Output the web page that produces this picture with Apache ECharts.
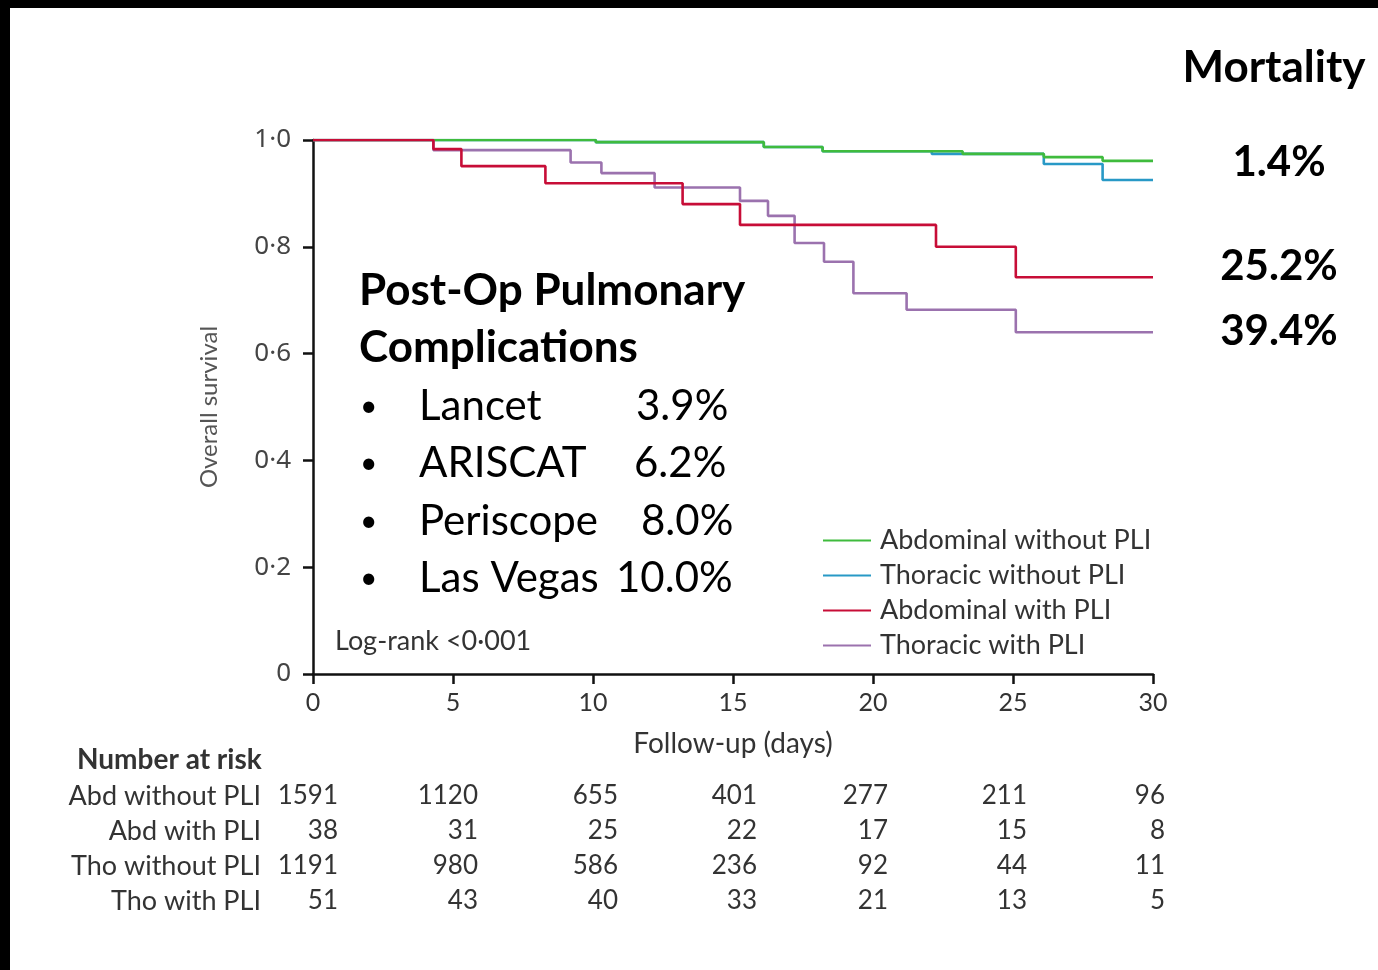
<!DOCTYPE html>
<html><head><meta charset="utf-8">
<script src="https://cdn.jsdelivr.net/npm/echarts@6/dist/echarts.min.js"></script>
<style>html,body{margin:0;padding:0;background:#fff}#c{width:1378px;height:970px}</style>
</head><body><div id="c"></div>
<script>
// ---- data ----
const seriesNames = ['Abdominal without PLI', 'Thoracic without PLI', 'Abdominal with PLI', 'Thoracic with PLI'];
const abdNoPliDays = [0, 10.1, 16.1, 18.2, 23.2, 26.1, 28.2, 30];
const abdNoPliSurv = [1.0, 0.996, 0.987, 0.979, 0.974, 0.968, 0.961, 0.961];
const thoNoPliDays = [0, 10.1, 16.1, 18.2, 22.1, 26.1, 28.2, 30];
const thoNoPliSurv = [1.0, 0.996, 0.987, 0.979, 0.974, 0.955, 0.925, 0.925];
const abdPliDays = [0, 4.3, 5.3, 8.3, 13.2, 15.25, 22.25, 25.1, 30];
const abdPliSurv = [1.0, 0.983, 0.951, 0.919, 0.880, 0.841, 0.800, 0.743, 0.743];
const thoPliDays = [0, 4.3, 9.2, 10.3, 12.2, 15.25, 16.25, 17.2, 18.25, 19.3, 21.2, 25.1, 30];
const thoPliSurv = [1.0, 0.981, 0.958, 0.938, 0.911, 0.886, 0.858, 0.807, 0.772, 0.713, 0.682, 0.640, 0.640];

const xTicks = [0, 5, 10, 15, 20, 25, 30];
const yTicks = [0, 0.2, 0.4, 0.6, 0.8, 1.0];

const riskDays = [0, 5, 10, 15, 20, 25, 30];
const riskRowLabels = ['Abd without PLI', 'Abd with PLI', 'Tho without PLI', 'Tho with PLI'];
const riskAbdNoPli = [1591, 1120, 655, 401, 277, 211, 96];
const riskAbdPli = [38, 31, 25, 22, 17, 15, 8];
const riskThoNoPli = [1191, 980, 586, 236, 92, 44, 11];
const riskThoPli = [51, 43, 40, 33, 21, 13, 5];

const ppcTitle = ['Post-Op Pulmonary', 'Complications'];
const ppcScores = ['Lancet', 'ARISCAT', 'Periscope', 'Las Vegas'];
const ppcRates = ['3.9%', '6.2%', '8.0%', '10.0%'];
const mortalityHeader = 'Mortality';
const mortalityLabels = ['1.4%', '25.2%', '39.4%'];
const logRankText = 'Log-rank <0\u00B7001';

// ---- layout / style ----
const colors = { abdNoPli: '#3fbb3d', thoNoPli: '#2899c6', abdPli: '#c70d37', thoPli: '#9b72ae' };
const FONT = 'Lato';
const riskColNudge = [25, 25, 25, 24, 15, 14, 12];
const riskRowY = [796, 831, 866, 901];
const ppcRateX = [636, 634, 641, 616];
const ppcRowY = [406, 463, 521, 578];
const mortalityY = [162, 266, 331];

const zip = (a, b) => a.map((v, i) => [v, b[i]]);

const chart = echarts.init(document.getElementById('c'), null, { renderer: 'canvas' });

function lineSeries(name, days, surv, color, z) {
  return {
    name, type: 'line', step: 'end', data: zip(days, surv),
    symbol: 'none', z,
    lineStyle: { color, width: 2.6 }, itemStyle: { color },
    emphasis: { disabled: true }, animation: false
  };
}

const option = {
  backgroundColor: '#fff',
  animation: false,
  grid: { left: 313, top: 140, width: 840, height: 534, containLabel: false },
  xAxis: {
    type: 'value', min: 0, max: 30, interval: 5,
    axisLine: { show: true, onZero: false, lineStyle: { color: '#111', width: 2.5 } },
    axisTick: { show: true, length: 10, inside: false, lineStyle: { color: '#111', width: 2.5 } },
    axisLabel: { fontFamily: FONT, fontSize: 25, color: '#333', margin: 16, formatter: v => String(v) },
    splitLine: { show: false },
    name: 'Follow-up (days)', nameLocation: 'middle', nameGap: 56,
    nameTextStyle: { fontFamily: FONT, fontSize: 28, color: '#333' }
  },
  yAxis: {
    type: 'value', min: 0, max: 1, interval: 0.2,
    axisLine: { show: true, onZero: false, lineStyle: { color: '#111', width: 2.5 } },
    axisTick: { show: true, length: 10, inside: false, lineStyle: { color: '#111', width: 2.5 } },
    axisLabel: {
      fontFamily: 'Noto Sans', fontSize: 26, color: '#444', margin: 22,
      formatter: v => (v === 0 ? '0' : v.toFixed(1).replace('.', '\u00B7'))
    },
    splitLine: { show: false },
    name: 'Overall survival', nameLocation: 'middle', nameGap: 92, nameRotate: 90,
    nameTextStyle: { fontFamily: FONT, fontSize: 24, color: '#555' }
  },
  legend: {
    data: seriesNames,
    orient: 'vertical', left: 823, top: 527, padding: 0,
    itemWidth: 48, itemHeight: 2, itemGap: 8, icon: 'rect',
    selectedMode: false,
    textStyle: { fontFamily: FONT, fontSize: 27, color: '#333', lineHeight: 27, padding: [0, 0, 0, 4] }
  },
  series: [
    lineSeries(seriesNames[1], thoNoPliDays, thoNoPliSurv, colors.thoNoPli, 2),
    lineSeries(seriesNames[0], abdNoPliDays, abdNoPliSurv, colors.abdNoPli, 3),
    lineSeries(seriesNames[3], thoPliDays, thoPliSurv, colors.thoPli, 4),
    lineSeries(seriesNames[2], abdPliDays, abdPliSurv, colors.abdPli, 5)
  ]
};
chart.setOption(option);

// ---- text overlays ----
const g = [];
const txt = (text, x, y, size, opts = {}) => ({
  type: 'text', x, y, z: 10,
  style: Object.assign({ text, fontFamily: FONT, fontSize: size, fill: '#000',
    textAlign: 'left', textVerticalAlign: 'middle' }, opts)
});

// black frame strips (top and left)
g.push({ type: 'rect', shape: { x: 0, y: 0, width: 1378, height: 8 }, style: { fill: '#000' }, z: 20 });
g.push({ type: 'rect', shape: { x: 0, y: 0, width: 10, height: 970 }, style: { fill: '#000' }, z: 20 });

// PPC block
g.push(txt(ppcTitle[0], 359, 291, 44, { fontWeight: 'bold' }));
g.push(txt(ppcTitle[1], 359, 348, 44, { fontWeight: 'bold' }));
ppcScores.forEach((s, i) => {
  g.push(txt('\u2022', 360, ppcRowY[i], 30));
  g.push(txt(s, 419, ppcRowY[i], 42));
  g.push(txt(ppcRates[i], ppcRateX[i], ppcRowY[i], 42));
});

// Mortality
g.push(txt(mortalityHeader, 1274, 68, 44, { fontWeight: 'bold', textAlign: 'center' }));
mortalityLabels.forEach((m, i) => g.push(txt(m, 1279, mortalityY[i], 42, { fontWeight: 'bold', textAlign: 'center' })));

// Log-rank
g.push(txt(logRankText, 335, 641, 27, { fill: '#333' }));

// Number at risk table
g.push(txt('Number at risk', 77, 760, 28, { fill: '#333', fontWeight: 'bold' }));
const riskRows = [riskAbdNoPli, riskAbdPli, riskThoNoPli, riskThoPli];
riskRowLabels.forEach((lab, r) => {
  g.push(txt(lab, 261, riskRowY[r], 27, { fill: '#333', textAlign: 'right' }));
  riskRows[r].forEach((n, c) => {
    const px = chart.convertToPixel({ gridIndex: 0 }, [riskDays[c], 0])[0];
    g.push(txt(String(n), px + riskColNudge[c], riskRowY[r], 26, { fill: '#333', textAlign: 'right' }));
  });
});

chart.setOption({ graphic: { elements: g } });
</script>
</body></html>
